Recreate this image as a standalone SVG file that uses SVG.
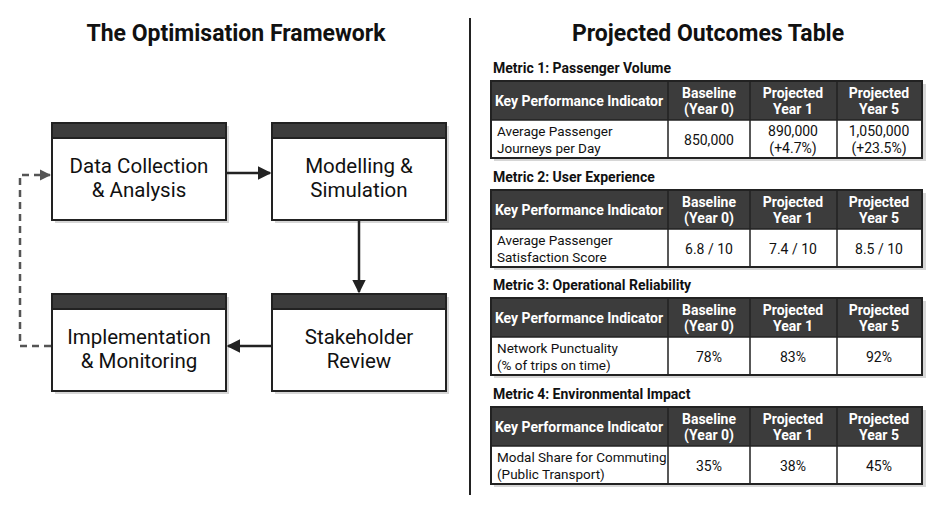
<svg xmlns="http://www.w3.org/2000/svg" width="940" height="513" viewBox="0 0 940 513">
<defs>
<style>
.title{font-family:Roboto,"Liberation Sans",sans-serif;font-weight:bold;font-size:23px;fill:#111;text-anchor:middle}
.node{font-family:Roboto,"Liberation Sans",sans-serif;font-size:20.5px;fill:#111;text-anchor:middle}
.body{fill:#fff;stroke:#222;stroke-width:2}
.hdr{fill:#3c3c3c;stroke:#222;stroke-width:2}
.shadow{fill:#bbb;opacity:0.6}
.conn{stroke:#222;stroke-width:2.5;fill:none}
.dash{stroke:#555;stroke-width:2.5;fill:none;stroke-dasharray:7 5}
.mlabel{font-family:Roboto,"Liberation Sans",sans-serif;font-weight:bold;font-size:14px;fill:#111}
.th{font-family:Roboto,"Liberation Sans",sans-serif;font-weight:bold;font-size:14px;fill:#fff;text-anchor:middle}
.td{font-family:Roboto,"Liberation Sans",sans-serif;font-size:13.5px;fill:#111}
.tdc{font-family:Roboto,"Liberation Sans",sans-serif;font-size:14px;fill:#111;text-anchor:middle}
.grid{stroke:#222;stroke-width:1.5;fill:none}
</style>
<marker id="ah" viewBox="0 0 10 10" refX="9" refY="5" markerWidth="5.5" markerHeight="5.5" orient="auto" markerUnits="strokeWidth"><path d="M0,0 L10,5 L0,10 z" fill="#222"/></marker>
<marker id="ahg" viewBox="0 0 10 10" refX="9" refY="5" markerWidth="4.5" markerHeight="4.5" orient="auto" markerUnits="strokeWidth"><path d="M0,0 L10,5 L0,10 z" fill="#555"/></marker>
<g id="tbl">
<rect x="494" y="3" width="432" height="77" class="shadow"/>
<rect x="491" y="0" width="431" height="39" fill="#3c3c3c"/>
<rect x="491" y="39" width="431" height="38" fill="#fff"/>
<rect x="491" y="0" width="431" height="77" fill="none" stroke="#222" stroke-width="2"/>
<path d="M491,39 H922 M668,0 V77 M750,0 V77 M837,0 V77" class="grid"/>
<text x="579" y="25" class="th">Key Performance Indicator</text>
<text x="709" y="17" class="th">Baseline</text><text x="709" y="33" class="th">(Year 0)</text>
<text x="793" y="17" class="th">Projected</text><text x="793" y="33" class="th">Year 1</text>
<text x="879" y="17" class="th">Projected</text><text x="879" y="33" class="th">Year 5</text>
</g>
</defs>
<rect width="940" height="513" fill="#fff"/>
<text x="236" y="41" class="title">The Optimisation Framework</text>
<text x="708" y="41" class="title">Projected Outcomes Table</text>
<line x1="470" y1="18" x2="470" y2="495" stroke="#222" stroke-width="2"/>

<g id="node-data">
<rect x="55" y="126" width="174" height="97" class="shadow"/>
<rect x="52" y="123" width="174" height="97" class="body"/>
<rect x="52" y="123" width="174" height="15" class="hdr"/>
<text x="139" y="173" class="node">Data Collection</text>
<text x="139" y="197" class="node">&amp; Analysis</text>
</g>
<g id="node-model">
<rect x="275" y="126" width="174" height="97" class="shadow"/>
<rect x="272" y="123" width="174" height="97" class="body"/>
<rect x="272" y="123" width="174" height="15" class="hdr"/>
<text x="359" y="173" class="node">Modelling &amp;</text>
<text x="359" y="197" class="node">Simulation</text>
</g>
<g id="node-impl">
<rect x="55" y="297" width="174" height="97" class="shadow"/>
<rect x="52" y="294" width="174" height="97" class="body"/>
<rect x="52" y="294" width="174" height="15" class="hdr"/>
<text x="139" y="344" class="node">Implementation</text>
<text x="139" y="368" class="node">&amp; Monitoring</text>
</g>
<g id="node-review">
<rect x="275" y="297" width="174" height="97" class="shadow"/>
<rect x="272" y="294" width="174" height="97" class="body"/>
<rect x="272" y="294" width="174" height="15" class="hdr"/>
<text x="359" y="344" class="node">Stakeholder</text>
<text x="359" y="368" class="node">Review</text>
</g>

<g id="connectors">
<line x1="227" y1="173" x2="270" y2="173" class="conn" marker-end="url(#ah)"/>
<line x1="359" y1="221" x2="359" y2="292" class="conn" marker-end="url(#ah)"/>
<line x1="271" y1="346" x2="228" y2="346" class="conn" marker-end="url(#ah)"/>
<path d="M51,346 H20 V175 H50" class="dash" marker-end="url(#ahg)"/>
</g>

<g id="table1">
<text x="493" y="73" class="mlabel">Metric 1: Passenger Volume</text>
<use href="#tbl" transform="translate(0,81)"/>
<text x="497" y="136" class="td">Average Passenger</text>
<text x="497" y="153" class="td">Journeys per Day</text>
<text x="709" y="145" class="tdc">850,000</text>
<text x="793" y="136" class="tdc">890,000</text>
<text x="793" y="153" class="tdc">(+4.7%)</text>
<text x="879" y="136" class="tdc">1,050,000</text>
<text x="879" y="153" class="tdc">(+23.5%)</text>
</g>
<g id="table2">
<text x="493" y="182" class="mlabel">Metric 2: User Experience</text>
<use href="#tbl" transform="translate(0,190)"/>
<text x="497" y="245" class="td">Average Passenger</text>
<text x="497" y="262" class="td">Satisfaction Score</text>
<text x="709" y="254" class="tdc">6.8 / 10</text>
<text x="793" y="254" class="tdc">7.4 / 10</text>
<text x="879" y="254" class="tdc">8.5 / 10</text>
</g>
<g id="table3">
<text x="493" y="290" class="mlabel">Metric 3: Operational Reliability</text>
<use href="#tbl" transform="translate(0,298)"/>
<text x="497" y="353" class="td">Network Punctuality</text>
<text x="497" y="370" class="td">(% of trips on time)</text>
<text x="709" y="362" class="tdc">78%</text>
<text x="793" y="362" class="tdc">83%</text>
<text x="879" y="362" class="tdc">92%</text>
</g>
<g id="table4">
<text x="493" y="399" class="mlabel">Metric 4: Environmental Impact</text>
<use href="#tbl" transform="translate(0,407)"/>
<text x="497" y="462" class="td">Modal Share for Commuting</text>
<text x="497" y="479" class="td">(Public Transport)</text>
<text x="709" y="471" class="tdc">35%</text>
<text x="793" y="471" class="tdc">38%</text>
<text x="879" y="471" class="tdc">45%</text>
</g>
</svg>
